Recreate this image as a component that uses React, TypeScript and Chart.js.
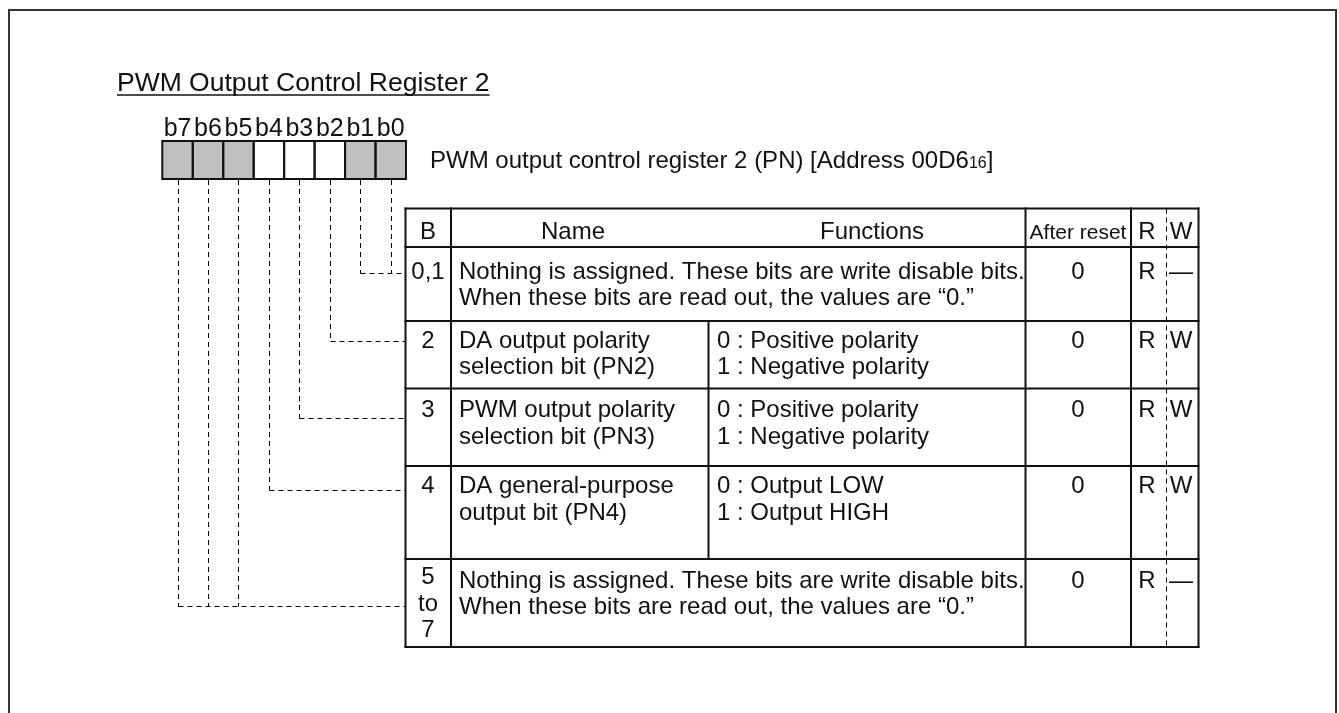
import React, { useEffect, useRef } from 'react';
import { Chart, registerables } from 'chart.js';

Chart.register(...registerables);

// ---------- content ----------
const title = 'PWM Output Control Register 2';
const registerCaption = 'PWM output control register 2 (PN) [Address 00D6';
const addressSubscript = '16';
const addressClose = ']';
const bitLabels = ['b7', 'b6', 'b5', 'b4', 'b3', 'b2', 'b1', 'b0'];
const bitReserved = [true, true, true, false, false, false, true, true];
const headerLabels = ['B', 'Name', 'Functions', 'After reset', 'R', 'W'];
const rowBitLabels = [['0,1'], ['2'], ['3'], ['4'], ['5', 'to', '7']];
const rowBitsCovered = [[0, 1], [2], [3], [4], [5, 6, 7]];
const rowNames = [
  ['Nothing is assigned. These bits are write disable bits.', 'When these bits are read out, the values are \u201c0.\u201d'],
  ['DA output polarity', 'selection bit (PN2)'],
  ['PWM output polarity', 'selection bit (PN3)'],
  ['DA general-purpose', 'output bit (PN4)'],
  ['Nothing is assigned. These bits are write disable bits.', 'When these bits are read out, the values are \u201c0.\u201d'],
];
const rowFunctions = [
  [],
  ['0 : Positive polarity', '1 : Negative polarity'],
  ['0 : Positive polarity', '1 : Negative polarity'],
  ['0 : Output LOW', '1 : Output HIGH'],
  [],
];
const rowAfterReset = ['0', '0', '0', '0', '0'];
const rowRead = ['R', 'R', 'R', 'R', 'R'];
const rowWrite = ['\u2014', 'W', 'W', 'W', '\u2014'];

// ---------- layout (page units = scale values) ----------
const W = 1339;
const H = 713;
const FONT = '"Liberation Sans", Arial, sans-serif';
const LAYOUT = {
  frame: { l: 9, t: 10, r: 1336, b: 724 },
  title: { x: 117, y: 91, underlineY: 95, size: 26.5 },
  box: { x0: 162.3, cellW: 30.46, top: 141, bottom: 179 },
  bitLabelY: 136,
  bitLabelSize: 25,
  caption: { x: 430, y: 168, size: 24, subSize: 16 },
  // x: left, B|Name, Name|Func, Func|Reset, Reset|R, R|W (dashed), right
  cols: [405.5, 451, 708.5, 1025.5, 1131, 1166, 1198.5],
  rows: [208.5, 247, 321, 388.5, 466, 559, 647],
  headerY: 239,
  headerX: [428, 573, 872, 1078, 1147, 1181],
  textSize: 24,
  resetHeaderSize: 21,
  rowBaselines: [[279, 305], [347.5, 374], [416.5, 443.5], [493, 520], [587.5, 614]],
  rowBBaselines: [[279], [347.5], [416.5], [493], [584, 611, 637]],
  nameX: 459,
  funcX: 717,
  leadY: [272.5, 340.5, 417.5, 489.5, 605.5],
};

const registerPlugin = {
  id: 'registerDiagram',
  afterDraw(chart: any) {
    const ctx: CanvasRenderingContext2D = chart.ctx;
    const xs = chart.scales.x;
    const ys = chart.scales.y;
    const px = (v: number) => xs.getPixelForValue(v);
    const py = (v: number) => ys.getPixelForValue(v);
    const ink = '#111';

    ctx.save();
    ctx.fillStyle = '#fff';
    ctx.fillRect(0, 0, chart.width, chart.height);

    // outer frame
    const f = LAYOUT.frame;
    ctx.strokeStyle = '#333';
    ctx.lineWidth = 2;
    ctx.strokeRect(px(f.l), py(f.t), px(f.r) - px(f.l), py(f.b) - py(f.t));

    // title + underline
    ctx.fillStyle = ink;
    ctx.textBaseline = 'alphabetic';
    ctx.font = `${LAYOUT.title.size}px ${FONT}`;
    ctx.textAlign = 'left';
    ctx.fillText(title, px(LAYOUT.title.x), py(LAYOUT.title.y));
    const tw = ctx.measureText(title).width;
    ctx.strokeStyle = ink;
    ctx.lineWidth = 1.5;
    ctx.beginPath();
    ctx.moveTo(px(LAYOUT.title.x), py(LAYOUT.title.underlineY));
    ctx.lineTo(px(LAYOUT.title.x) + tw, py(LAYOUT.title.underlineY));
    ctx.stroke();

    // bit boxes
    const b = LAYOUT.box;
    const cellCenter = (i: number) => b.x0 + b.cellW * (i + 0.5);
    bitLabels.forEach((_lab, i) => {
      const x0 = px(b.x0 + b.cellW * i);
      const x1 = px(b.x0 + b.cellW * (i + 1));
      ctx.fillStyle = bitReserved[i] ? '#c0c0c0' : '#ffffff';
      ctx.fillRect(x0, py(b.top), x1 - x0, py(b.bottom) - py(b.top));
    });
    ctx.strokeStyle = ink;
    ctx.lineWidth = 2;
    bitLabels.forEach((_lab, i) => {
      const x0 = px(b.x0 + b.cellW * i);
      const x1 = px(b.x0 + b.cellW * (i + 1));
      ctx.strokeRect(x0, py(b.top), x1 - x0, py(b.bottom) - py(b.top));
    });
    ctx.fillStyle = ink;
    ctx.font = `${LAYOUT.bitLabelSize}px ${FONT}`;
    ctx.textAlign = 'center';
    bitLabels.forEach((lab, i) => {
      ctx.fillText(lab, px(cellCenter(i)), py(LAYOUT.bitLabelY));
    });

    // caption
    const c = LAYOUT.caption;
    ctx.textAlign = 'left';
    ctx.font = `${c.size}px ${FONT}`;
    ctx.fillText(registerCaption, px(c.x), py(c.y));
    let cx = px(c.x) + ctx.measureText(registerCaption).width;
    ctx.font = `${c.subSize}px ${FONT}`;
    ctx.fillText(addressSubscript, cx, py(c.y));
    cx += ctx.measureText(addressSubscript).width;
    ctx.font = `${c.size}px ${FONT}`;
    ctx.fillText(addressClose, cx, py(c.y));

    // dashed leader lines
    ctx.strokeStyle = '#000';
    ctx.lineWidth = 1;
    ctx.setLineDash([5, 4]);
    const bitIndexOf = (bit: number) => 7 - bit;
    rowBitsCovered.forEach((bits, r) => {
      const yLead = Math.round(py(LAYOUT.leadY[r])) + 0.5;
      let minX = Infinity;
      bits.forEach((bit) => {
        const x = Math.round(px(cellCenter(bitIndexOf(bit)))) + 0.5;
        minX = Math.min(minX, x);
        ctx.beginPath();
        ctx.moveTo(x, py(b.bottom) + 1);
        ctx.lineTo(x, yLead);
        ctx.stroke();
      });
      ctx.beginPath();
      ctx.moveTo(minX, yLead);
      ctx.lineTo(px(LAYOUT.cols[0]), yLead);
      ctx.stroke();
    });

    // R/W dashed divider
    const xRW = Math.round(px(LAYOUT.cols[5])) + 0.5;
    ctx.beginPath();
    ctx.moveTo(xRW, py(LAYOUT.rows[0]));
    ctx.lineTo(xRW, py(LAYOUT.rows[LAYOUT.rows.length - 1]));
    ctx.stroke();
    ctx.setLineDash([]);

    // table grid
    const cols = LAYOUT.cols;
    const rows = LAYOUT.rows;
    const yTop = py(rows[0]);
    const yBot = py(rows[rows.length - 1]);
    ctx.strokeStyle = ink;
    ctx.lineWidth = 2;
    ctx.lineCap = 'square';
    rows.forEach((r) => {
      ctx.beginPath();
      ctx.moveTo(px(cols[0]), py(r));
      ctx.lineTo(px(cols[6]), py(r));
      ctx.stroke();
    });
    [0, 1, 3, 4, 6].forEach((ci) => {
      ctx.beginPath();
      ctx.moveTo(px(cols[ci]), yTop);
      ctx.lineTo(px(cols[ci]), yBot);
      ctx.stroke();
    });
    rowFunctions.forEach((fn, r) => {
      if (fn.length) {
        ctx.beginPath();
        ctx.moveTo(px(cols[2]), py(rows[r + 1]));
        ctx.lineTo(px(cols[2]), py(rows[r + 2]));
        ctx.stroke();
      }
    });

    // header
    ctx.fillStyle = ink;
    ctx.textAlign = 'center';
    headerLabels.forEach((h, i) => {
      ctx.font = `${i === 3 ? LAYOUT.resetHeaderSize : LAYOUT.textSize}px ${FONT}`;
      ctx.fillText(h, px(LAYOUT.headerX[i]), py(LAYOUT.headerY));
    });

    // rows
    ctx.font = `${LAYOUT.textSize}px ${FONT}`;
    rowNames.forEach((names, r) => {
      const bl = LAYOUT.rowBaselines[r];
      ctx.textAlign = 'center';
      rowBitLabels[r].forEach((t, k) => {
        ctx.fillText(t, px(LAYOUT.headerX[0]), py(LAYOUT.rowBBaselines[r][k]));
      });
      ctx.fillText(rowAfterReset[r], px(LAYOUT.headerX[3]), py(bl[0]));
      ctx.fillText(rowRead[r], px(LAYOUT.headerX[4]), py(bl[0]));
      ctx.fillText(rowWrite[r], px(LAYOUT.headerX[5]), py(bl[0]));
      ctx.textAlign = 'left';
      names.forEach((t, k) => ctx.fillText(t, px(LAYOUT.nameX), py(bl[k])));
      rowFunctions[r].forEach((t, k) => ctx.fillText(t, px(LAYOUT.funcX), py(bl[k])));
    });

    ctx.restore();
  },
};

export default function App() {
  const ref = useRef<HTMLCanvasElement | null>(null);
  useEffect(() => {
    if (!ref.current) return;
    const chart = new Chart(ref.current, {
      type: 'scatter',
      data: { datasets: [{ data: [], pointRadius: 0 }] },
      options: {
        animation: false,
        responsive: false,
        maintainAspectRatio: false,
        devicePixelRatio: 1,
        layout: { padding: 0 },
        events: [],
        plugins: { legend: { display: false }, tooltip: { enabled: false } },
        scales: {
          x: { type: 'linear', min: 0, max: W, display: false },
          y: { type: 'linear', min: 0, max: H, reverse: true, display: false },
        },
      },
      plugins: [registerPlugin],
    });
    return () => chart.destroy();
  }, []);
  return (
    <div style={{ position: 'fixed', left: 0, top: 0, width: W, height: H, background: '#fff' }}>
      <canvas ref={ref} width={W} height={H} style={{ display: 'block', width: W, height: H }} />
    </div>
  );
}
